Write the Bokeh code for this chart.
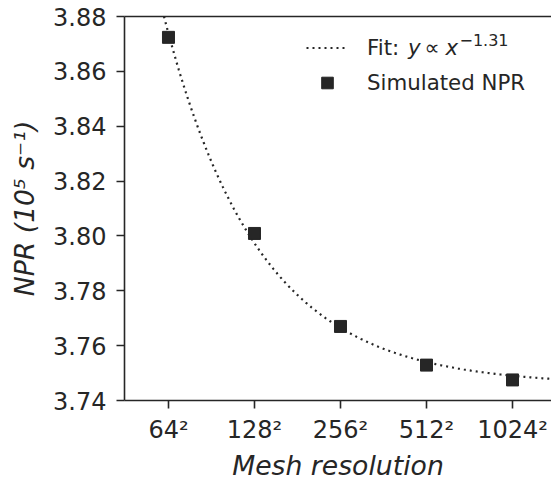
import numpy as np
from bokeh.plotting import figure
from bokeh.models import (Range1d, FixedTicker, PrintfTickFormatter, Label,
                          Legend, LegendItem, LinearAxis)
from bokeh.embed import file_html
from bokeh.resources import INLINE

# ---- data ----
mesh = [64, 128, 256, 512, 1024]
npr = [3.8724, 3.8009, 3.7670, 3.7529, 3.7475]
fit_exponent = 1.31
x_tick_labels = ["64²", "128²", "256²", "512²", "1024²"]
y_ticks = [3.74, 3.76, 3.78, 3.80, 3.82, 3.84, 3.86, 3.88]

# least-squares fit y = c + k * x^-1.31
m = np.array(mesh, dtype=float)
A = np.vstack([np.ones_like(m), m ** (-fit_exponent)]).T
c, k = np.linalg.lstsq(A, np.array(npr), rcond=None)[0]
xf = np.geomspace(50, 1500, 300)
yf = c + k * xf ** (-fit_exponent)

INK = "#262626"
FONT = "DejaVu Sans"

p = figure(width=551, height=483, x_axis_type="log",
           x_range=Range1d(44.9, 1402), y_range=Range1d(3.74, 3.88),
           output_backend="svg", toolbar_location=None,
           min_border_left=124, min_border_right=0, min_border_top=16,
           min_border_bottom=79)
p.outline_line_color = None
p.grid.visible = False
p.background_fill_color = "white"
p.border_fill_color = "white"

fit_r = p.line(xf, yf, line_color=INK, line_width=2.2, line_dash="2 4")
sc_r = p.scatter(mesh, npr, marker="square", size=12, fill_color=INK, line_color=INK)

# axes
for ax in (p.xaxis[0], p.yaxis[0]):
    ax.axis_line_color = INK
    ax.axis_line_width = 1.6
    ax.major_tick_line_color = INK
    ax.major_tick_line_width = 1.6
    ax.major_tick_out = 8
    ax.major_tick_in = 0
    ax.minor_tick_line_color = None
    ax.major_label_text_font = FONT
    ax.major_label_text_font_size = "18pt"
    ax.major_label_text_color = INK
    ax.axis_label_text_font = FONT
    ax.axis_label_text_font_style = "italic"
    ax.axis_label_text_font_size = "20pt"
    ax.axis_label_text_color = INK

p.xaxis.ticker = FixedTicker(ticks=mesh)
p.xaxis.major_label_overrides = {mv: lab for mv, lab in zip(mesh, x_tick_labels)}
p.xaxis.major_label_standoff = 7
p.xaxis.axis_label = "Mesh resolution"
p.xaxis.axis_label_standoff = 3

p.yaxis.ticker = FixedTicker(ticks=y_ticks)
p.yaxis.formatter = PrintfTickFormatter(format="%.2f")
p.yaxis.major_label_standoff = 10
p.yaxis.axis_label = "NPR (10⁵ s⁻¹)"
p.yaxis.axis_label_standoff = 10

# top spine
top = LinearAxis(ticker=FixedTicker(ticks=[]), axis_line_color=INK, axis_line_width=1.6,
                 major_tick_line_color=None, minor_tick_line_color=None)
p.add_layout(top, "above")

# legend
legend = Legend(items=[LegendItem(label="Fit:", renderers=[fit_r]),
                       LegendItem(label="Simulated NPR", renderers=[sc_r])],
                location=(182, 303.5), padding=0, margin=0, spacing=6,
                glyph_width=42, glyph_height=29, label_standoff=19,
                border_line_color=None, background_fill_alpha=0,
                label_text_font=FONT, label_text_font_size="16pt",
                label_text_color=INK)
p.add_layout(legend)

fit_parts = [
    ("y", "italic", "16pt", 283.5, 353),
    ("∝", "normal", "16pt", 300, 353),
    ("x", "italic", "16pt", 321, 353),
    ("−1.31", "normal", "12pt", 335, 361),
]
for txt, style, size, sx, sy in fit_parts:
    p.add_layout(Label(x=sx, y=sy, x_units="screen", y_units="screen", text=txt,
                       text_font=FONT, text_font_style=style, text_font_size=size,
                       text_color=INK, text_align="left", text_baseline="middle"))

open("out.html", "w").write(file_html(p, INLINE))
